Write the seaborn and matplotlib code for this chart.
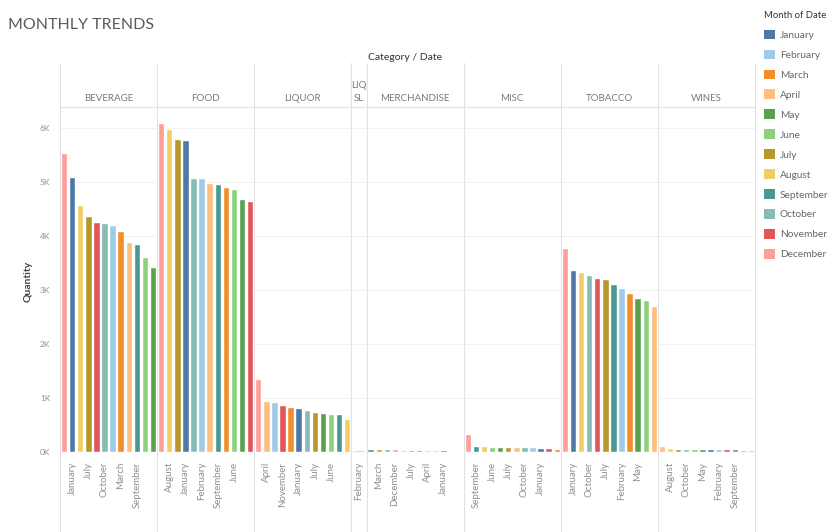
import matplotlib
matplotlib.use("Agg")
import matplotlib.pyplot as plt
import seaborn as sns
import pandas as pd
from matplotlib.patches import Patch
from matplotlib.lines import Line2D
from matplotlib.ticker import FuncFormatter

# ---------------- data ----------------
months = ["January", "February", "March", "April", "May", "June", "July",
          "August", "September", "October", "November", "December"]
month_colors = ["#4E79A7", "#A0CBE8", "#F28E2B", "#FFBE7D", "#59A14F", "#8CD17D",
                "#B6992D", "#F1CE63", "#499894", "#86BCB6", "#E15759", "#FF9D9A"]

categories = ["BEVERAGE", "FOOD", "LIQUOR", "LIQ SL", "MERCHANDISE", "MISC", "TOBACCO", "WINES"]
header_labels = ["BEVERAGE", "FOOD", "LIQUOR", "LIQ\nSL", "MERCHANDISE", "MISC", "TOBACCO", "WINES"]

beverage_months = ["December", "January", "August", "July", "November", "October",
                   "February", "March", "April", "September", "June", "May"]
beverage_qty = [5540, 5100, 4570, 4380, 4260, 4240, 4200, 4100, 3890, 3850, 3620, 3420]

food_months = ["December", "August", "July", "January", "October", "February",
               "April", "September", "March", "June", "May", "November"]
food_qty = [6100, 5990, 5790, 5770, 5080, 5070, 4980, 4960, 4900, 4880, 4690, 4640]

liquor_months = ["December", "April", "February", "November", "March", "January",
                 "October", "July", "May", "June", "September", "August"]
liquor_qty = [1350, 950, 920, 870, 830, 820, 780, 750, 720, 700, 700, 610]

liqsl_months = ["February"]
liqsl_qty = [30]

merch_months = ["September", "March", "October", "December", "June", "July",
                "May", "April", "August", "January", "February", "November"]
merch_qty = [60, 55, 50, 48, 45, 42, 40, 38, 35, 30, 25, 20]

misc_months = ["December", "September", "August", "June", "May", "July",
               "April", "October", "February", "January", "November", "March"]
misc_qty = [330, 110, 105, 100, 98, 95, 90, 88, 85, 80, 78, 60]

tobacco_months = ["December", "January", "August", "October", "November", "July",
                  "September", "February", "March", "May", "June", "April"]
tobacco_qty = [3770, 3370, 3330, 3280, 3220, 3200, 3110, 3040, 2950, 2850, 2810, 2700]

wines_months = ["April", "August", "July", "October", "June", "May",
                "January", "February", "November", "September", "March", "December"]
wines_qty = [120, 70, 62, 60, 58, 56, 55, 52, 50, 48, 45, 40]

y_ticks = [0, 1000, 2000, 3000, 4000, 5000, 6000]

cat_months = [beverage_months, food_months, liquor_months, liqsl_months,
              merch_months, misc_months, tobacco_months, wines_months]
cat_qty = [beverage_qty, food_qty, liquor_qty, liqsl_qty,
           merch_qty, misc_qty, tobacco_qty, wines_qty]

rows = []
for cat, ms, qs in zip(categories, cat_months, cat_qty):
    for m, q in zip(ms, qs):
        rows.append({"Category": cat, "Month": m, "Quantity": q})
df = pd.DataFrame(rows)
palette = dict(zip(months, month_colors))

# ---------------- figure ----------------
sns.set_theme(style="white")
plt.rcParams["font.family"] = ["Lato", "DejaVu Sans"]

W, H = 831, 532
fig = plt.figure(figsize=(W / 100, H / 100), dpi=100)

left_px, right_px, top_px, bot_px = 60, 755, 107, 455
widths = [len(m) if len(m) > 1 else 1.9 for m in cat_months]
gs = fig.add_gridspec(1, len(categories), width_ratios=widths,
                      left=left_px / W, right=right_px / W,
                      top=1 - top_px / H, bottom=1 - bot_px / H, wspace=0)

grid_c = "#e2e2e2"
axes = []
for i, cat in enumerate(categories):
    ax = fig.add_subplot(gs[0, i], sharey=axes[0] if axes else None)
    axes.append(ax)
    sub = df[df["Category"] == cat]
    sns.barplot(data=sub, x="Month", y="Quantity", hue="Month", palette=palette,
                order=list(sub["Month"]), dodge=False, legend=False,
                width=0.8, saturation=1, ax=ax)
    ax.set_ylim(-55, 6390)
    ax.set_yticks(y_ticks)
    ax.yaxis.grid(True, color="#f1f1f1", linewidth=0.7)
    ax.set_axisbelow(True)
    for s in ax.spines.values():
        s.set_visible(False)
    ax.set_xlabel("")
    ax.set_ylabel("")
    ms = list(sub["Month"])
    if len(ms) == 1:
        labs = ms
    else:
        labs = [m if j in (1, 3, 5, 7, 9) else "" for j, m in enumerate(ms)]
    ax.set_xticks(range(len(ms)))
    ax.set_xticklabels(labs, rotation=90, fontsize=7, color="#8f8f8f", va="top")
    ax.tick_params(axis="x", length=0, pad=5)
    if i == 0:
        ax.yaxis.set_major_formatter(FuncFormatter(lambda v, p: f"{v/1000:.0f}K"))
        ax.tick_params(axis="y", length=0, pad=7, labelsize=6, labelcolor="#8f8f8f")
        ax.set_ylabel("Quantity", fontsize=7.5, color="#444444", fontweight="bold")
        ax_w_px = ax.get_position().width * W
        ax.yaxis.set_label_coords((33 - left_px) / ax_w_px, 0.5)
    else:
        ax.tick_params(axis="y", left=False, labelleft=False)

# panel separators and header
bounds = [axes[0].get_position().x0] + [a.get_position().x1 for a in axes]
for xb in bounds:
    fig.add_artist(Line2D([xb, xb], [0, 1 - 63 / H], color=grid_c, linewidth=0.8))
fig.add_artist(Line2D([left_px / W, right_px / W], [1 - top_px / H, 1 - top_px / H],
                      color=grid_c, linewidth=0.8))
for a, lab in zip(axes, header_labels):
    p = a.get_position()
    fig.text((p.x0 + p.x1) / 2, 1 - 103 / H, lab, ha="center", va="bottom",
             fontsize=7, color="#7a7a7a", linespacing=1.6)

fig.text(405 / W, 1 - 57 / H, "Category / Date", ha="center", va="center",
         fontsize=7.5, color="#333333")
fig.text(8 / W, 1 - 25 / H, "MONTHLY TRENDS", ha="left", va="center",
         fontsize=11.5, color="#5a5a5a")

handles = [Patch(facecolor=c, edgecolor="none") for c in month_colors]
leg = fig.legend(handles, months, loc="upper left", bbox_to_anchor=(762 / W, 1 - 9 / H),
                 frameon=False, fontsize=7.3, title="Month of Date", title_fontsize=6.8,
                 handlelength=1.05, handleheight=1.1, labelspacing=0.95,
                 handletextpad=0.5, borderaxespad=0, borderpad=0.2)
leg._legend_box.align = "left"
for t in leg.get_texts():
    t.set_color("#666666")
leg.get_title().set_color("#333333")

fig.savefig("out.png", dpi=100)
